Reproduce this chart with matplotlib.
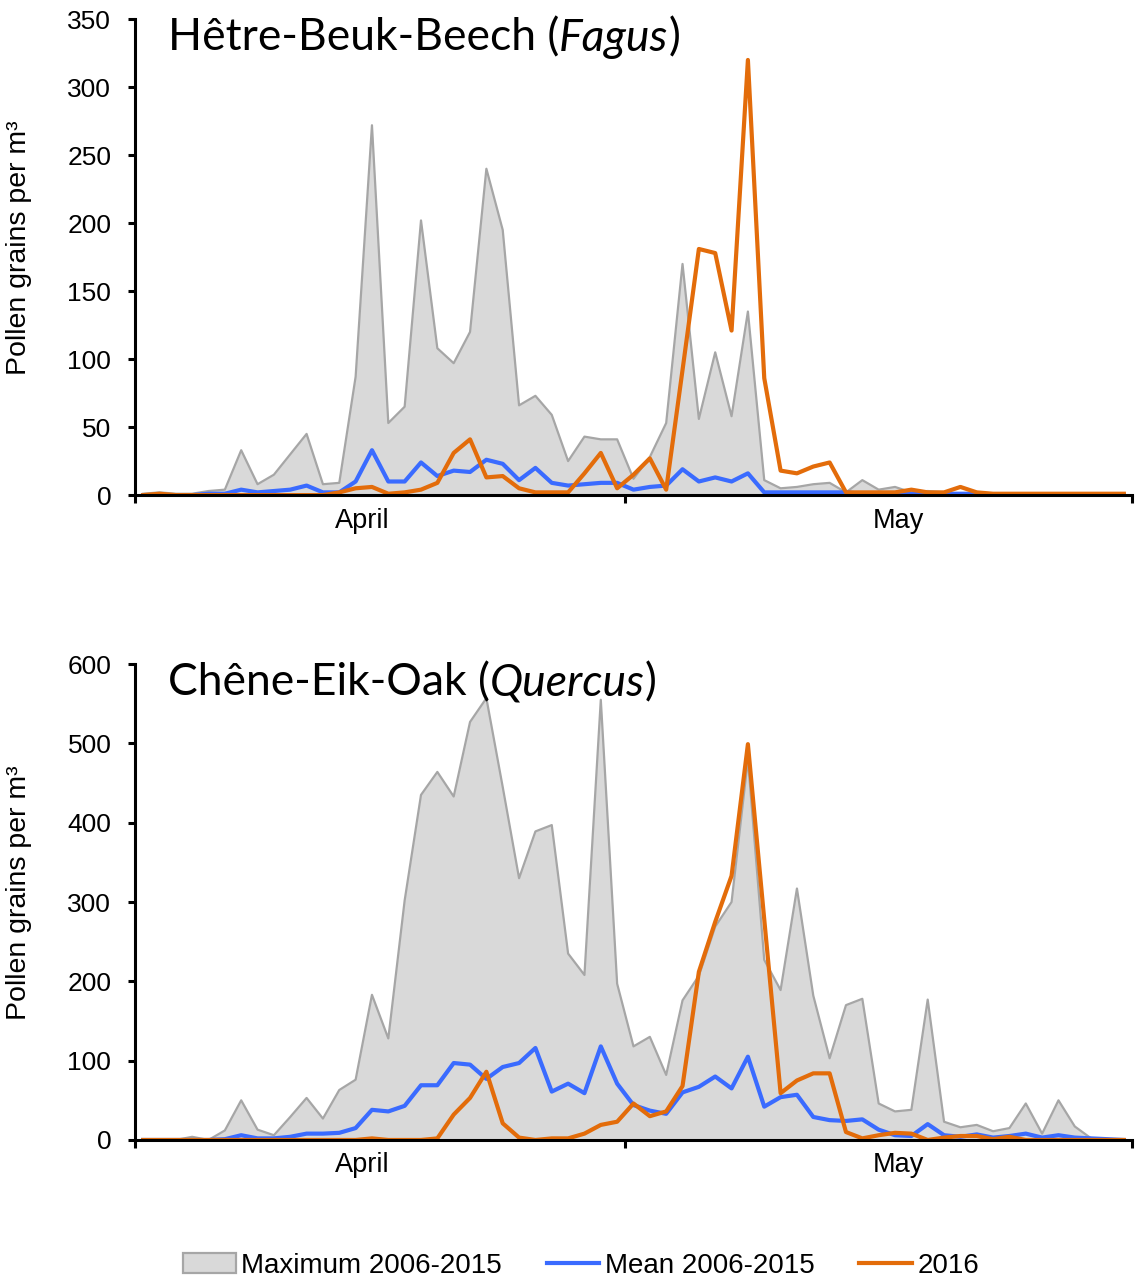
import matplotlib
matplotlib.use("Agg")
from matplotlib import pyplot as plt
from matplotlib.patches import Patch
from matplotlib.lines import Line2D
import numpy as np

# daily values, 1 April - 31 May
days = np.arange(61)
month_labels = ['April', 'May']
month_label_pos = [13.4, 46.2]
month_bounds = [-0.5, 29.5, 60.5]

fagus_max = [1, 2, 1, 1, 3, 4, 33, 8, 15, 30, 45, 8, 9, 87, 272, 53, 65, 202, 108, 97,
             120, 240, 195, 66, 73, 59, 25, 43, 41, 41, 12, 28, 53, 170, 56, 105, 58, 135, 11, 5,
             6, 8, 9, 2, 11, 4, 6, 2, 3, 2, 1, 1, 1, 1, 1, 1, 1, 0, 0, 0, 0]
fagus_mean = [0, 0, 0, 0, 1, 1, 4, 2, 3, 4, 7, 2, 2, 10, 33, 10, 10, 24, 14, 18,
              17, 26, 23, 11, 20, 9, 7, 8, 9, 9, 4, 6, 7, 19, 10, 13, 10, 16, 2, 2,
              2, 2, 2, 2, 1, 1, 1, 1, 1, 1, 1, 1, 0, 0, 0, 0, 0, 0, 0, 0, 0]
fagus_2016 = [0, 1, 0, 0, 0, 0, 0, 0, 0, 0, 0, 0, 2, 5, 6, 1, 2, 4, 9, 31,
              41, 13, 14, 5, 2, 2, 2, 16, 31, 5, 15, 27, 4, 92, 181, 178, 121, 320, 86, 18,
              16, 21, 24, 2, 2, 2, 2, 4, 2, 2, 6, 2, 1, 1, 1, 1, 1, 1, 1, 1, 1]

quercus_max = [0, 0, 0, 4, 0, 12, 50, 13, 6, 29, 53, 27, 63, 76, 183, 128, 302, 435, 464, 433,
               527, 557, 445, 330, 389, 397, 235, 208, 555, 197, 118, 130, 82, 176, 207, 269, 300, 480, 227, 189,
               317, 182, 103, 170, 178, 46, 36, 38, 177, 23, 16, 19, 11, 15, 46, 8, 50, 17, 2, 1, 0]
quercus_mean = [0, 0, 0, 0, 0, 1, 6, 2, 2, 4, 8, 8, 9, 15, 38, 36, 43, 69, 69, 97,
                95, 77, 92, 97, 116, 61, 71, 59, 118, 71, 44, 37, 33, 60, 67, 80, 65, 105, 42, 54,
                57, 29, 25, 24, 26, 13, 6, 5, 20, 6, 4, 7, 3, 5, 8, 3, 6, 3, 2, 1, 0]
quercus_2016 = [0, 0, 0, 0, 0, 0, 0, 0, 0, 0, 0, 0, 0, 0, 2, 0, 0, 0, 2, 32,
                53, 86, 21, 3, 0, 2, 2, 8, 19, 23, 46, 30, 36, 68, 212, 275, 333, 499, 278, 59,
                75, 84, 84, 10, 2, 6, 9, 8, 0, 3, 5, 5, 1, 4, 0, 0, 0, 0, 0, 0, 0]

panels = [
    ('Hêtre-Beuk-Beech', 'Fagus', fagus_max, fagus_mean, fagus_2016, 350, 50),
    ('Chêne-Eik-Oak', 'Quercus', quercus_max, quercus_mean, quercus_2016, 600, 100),
]

fill_col = '#d9d9d9'
edge_col = '#a6a6a6'
blue = '#3a6bff'
orange = '#e36c0a'
tick_font = 'Liberation Sans'
title_font = 'Lato'

fig, axes = plt.subplots(2, 1, figsize=(11.36, 12.78), dpi=100)
fig.subplots_adjust(left=0.1188, right=0.9965, top=0.985, bottom=0.108, hspace=0.355)

for ax, (name, genus, vmax, vmean, v2016, ymax, ystep) in zip(axes, panels):
    ax.fill_between(days, vmax, 0, color=fill_col, lw=0)
    ax.plot(days, vmax, color=edge_col, lw=1.6)
    ax.plot(days, vmean, color=blue, lw=3)
    ax.plot(days, v2016, color=orange, lw=3)

    ax.set_xlim(-0.5, 60.5)
    ax.set_ylim(0, ymax)
    ax.set_yticks(np.arange(0, ymax + 1, ystep))
    ax.set_xticks(month_bounds)
    ax.set_xticklabels([])
    ax.set_xticks(month_label_pos, minor=True)
    ax.set_xticklabels(month_labels, minor=True, fontsize=19.5, family=tick_font)
    ax.tick_params(axis='x', which='minor', length=0, pad=9)
    ax.tick_params(axis='x', which='major', length=6, width=2.2, direction='out')
    ax.tick_params(axis='y', length=5, width=2.2, direction='out', pad=12)
    for lab in ax.get_yticklabels():
        lab.set_fontsize(19)
        lab.set_family(tick_font)

    for s in ['top', 'right']:
        ax.spines[s].set_visible(False)
    for s in ['left', 'bottom']:
        ax.spines[s].set_linewidth(2.2)

    ax.set_ylabel('Pollen grains per m³', fontsize=20.5, family=tick_font)
    ax.yaxis.set_label_coords(-0.103, 0.52)

    # title: common names, then genus in italics
    t1 = ax.text(0.033, 0.96, name + ' (', transform=ax.transAxes,
                 fontsize=32, family=title_font, va='center')
    t2 = ax.annotate(genus, xy=(1, 0), xycoords=t1, va='bottom',
                     fontsize=32, family=title_font, style='italic')
    ax.annotate(')', xy=(1, 0), xycoords=t2, va='bottom',
                fontsize=32, family=title_font)

handles = [Patch(facecolor=fill_col, edgecolor=edge_col, lw=1.6),
           Line2D([], [], color=blue, lw=3),
           Line2D([], [], color=orange, lw=3)]
fig.legend(handles, ['Maximum 2006-2015', 'Mean 2006-2015', '2016'],
           loc='center', bbox_to_anchor=(0.5115, 0.0095), ncol=3, frameon=False,
           prop={'family': tick_font, 'size': 20},
           handlelength=1.9, handletextpad=0.2, columnspacing=1.6)

fig.savefig('out.png', dpi=100)
